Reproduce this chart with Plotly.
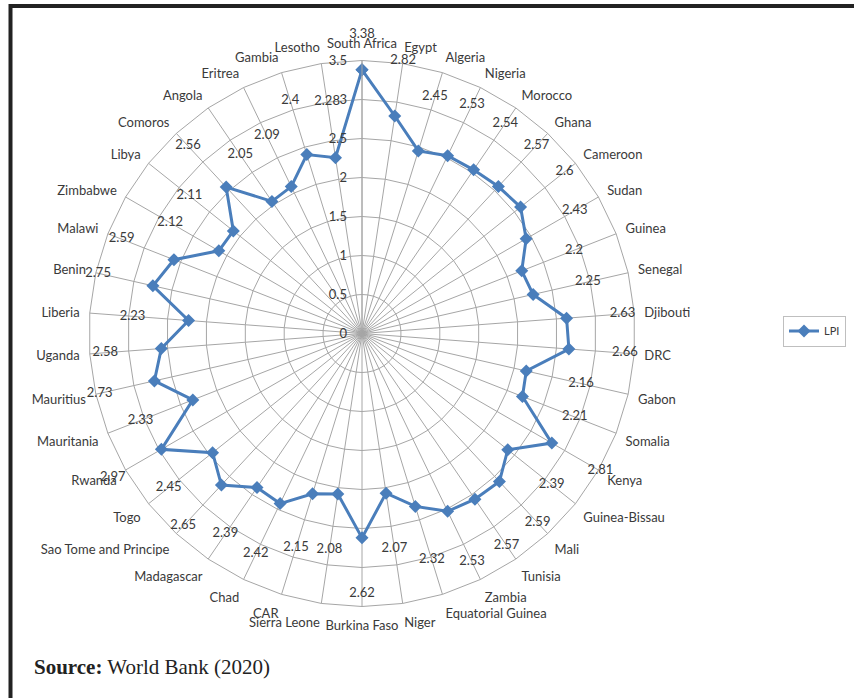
import plotly.graph_objects as go

# Logistics Performance Index (LPI) by African country, clockwise from the top
countries = [
    "South Africa", "Egypt", "Algeria", "Nigeria", "Morocco", "Ghana", "Cameroon",
    "Sudan", "Guinea", "Senegal", "Djibouti", "DRC", "Gabon", "Somalia", "Kenya",
    "Guinea-Bissau", "Mali", "Tunisia", "Zambia", "Equatorial Guinea", "Niger",
    "Burkina Faso", "Sierra Leone", "CAR", "Chad", "Madagascar",
    "Sao Tome and Principe", "Togo", "Rwanda", "Mauritania", "Mauritius", "Uganda",
    "Liberia", "Benin", "Malawi", "Zimbabwe", "Libya", "Comoros", "Angola",
    "Eritrea", "Gambia", "Lesotho",
]
lpi = [
    3.38, 2.82, 2.45, 2.53, 2.54, 2.57, 2.6,
    2.43, 2.2, 2.25, 2.63, 2.66, 2.16, 2.21, 2.81,
    2.39, 2.59, 2.57, 2.53, 2.32, 2.07,
    2.62, 2.08, 2.15, 2.42, 2.39,
    2.65, 2.45, 2.97, 2.33, 2.73, 2.58,
    2.23, 2.75, 2.59, 2.12, 2.11, 2.56, 2.05,
    2.09, 2.4, 2.28,
]
radial_ticks = [0, 0.5, 1, 1.5, 2, 2.5, 3, 3.5]

W, H = 854, 698
cx, cy = 362, 333.5
r_max = 3.5            # outer ring of the chart
px_per_unit = 273 / r_max

# value labels sit a fixed distance outside each marker, kept inside the frame
label_offset = 0.72
label_cap = 3.83
label_r = [min(v + label_offset, label_cap) for v in lpi]
label_text = [f"{v:g}" for v in lpi]

# a transparent overlay subplot with a wider radial range carries the labels
overlay_max = 4.25

line_blue = "#4A7EBB"
grid_grey = "#a6a6a6"
text_grey = "#3a3a3a"
label_font = "Lato"
label_size = 13

# radial tick labels sit just left of the vertical axis
pad = "\u00a0" * 3
radial_text = [f"{t:g}{pad}" for t in radial_ticks]


def square_domain(r_units):
    rad = r_units * px_per_unit
    return dict(
        x=[(cx - rad) / W, (cx + rad) / W],
        y=[1 - (cy + rad) / H, 1 - (cy - rad) / H],
    )


fig = go.Figure()

fig.add_trace(go.Scatterpolar(
    r=lpi + [lpi[0]],
    theta=countries + [countries[0]],
    mode="lines+markers",
    name="LPI",
    line=dict(color=line_blue, width=3),
    marker=dict(symbol="diamond", size=10, color=line_blue),
    cliponaxis=False,
    subplot="polar",
))

fig.add_trace(go.Scatterpolar(
    r=label_r,
    theta=countries,
    mode="text",
    text=label_text,
    textfont=dict(family=label_font, size=label_size, color=text_grey),
    showlegend=False,
    cliponaxis=False,
    hoverinfo="skip",
    subplot="polar2",
))

hidden_radial = dict(range=[0, overlay_max], visible=False, showgrid=False,
                     showline=False, showticklabels=False, ticks="")
hidden_angular = dict(type="category", categoryorder="array", categoryarray=countries,
                      direction="clockwise", rotation=90, visible=False,
                      showgrid=False, showline=False, showticklabels=False, ticks="")

fig.update_layout(
    width=W,
    height=H,
    margin=dict(l=0, r=0, t=0, b=0),
    paper_bgcolor="white",
    plot_bgcolor="white",
    font=dict(family=label_font, size=label_size, color=text_grey),
    polar=dict(
        domain=square_domain(r_max),
        bgcolor="white",
        gridshape="linear",
        radialaxis=dict(
            range=[0, r_max],
            tickvals=radial_ticks,
            ticktext=radial_text,
            angle=90,
            tickangle=90,
            side="counterclockwise",
            ticks="",
            showline=True,
            linecolor=grid_grey,
            linewidth=1,
            gridcolor=grid_grey,
            gridwidth=1,
            tickfont=dict(family=label_font, size=label_size, color=text_grey),
        ),
        angularaxis=dict(
            type="category",
            categoryorder="array",
            categoryarray=countries,
            direction="clockwise",
            rotation=90,
            ticks="outside",
            ticklen=7,
            tickcolor="rgba(0,0,0,0)",
            showline=True,
            linecolor=grid_grey,
            linewidth=1,
            gridcolor=grid_grey,
            gridwidth=1,
            tickfont=dict(family=label_font, size=label_size, color=text_grey),
        ),
    ),
    polar2=dict(
        domain=square_domain(overlay_max),
        bgcolor="rgba(0,0,0,0)",
        radialaxis=hidden_radial,
        angularaxis=hidden_angular,
    ),
    showlegend=True,
    legend=dict(
        x=783 / W,
        y=1 - 331 / H,
        xanchor="left",
        yanchor="middle",
        bgcolor="white",
        bordercolor="#bfbfbf",
        borderwidth=1,
        font=dict(family=label_font, size=11, color=text_grey),
    ),
    shapes=[
        dict(
            type="rect", xref="paper", yref="paper",
            x0=10.5 / W, x1=1.05, y0=-0.05, y1=1 - 6 / H,
            line=dict(color="#222222", width=4),
            fillcolor="rgba(0,0,0,0)",
        )
    ],
    annotations=[
        dict(
            x=32 / W, y=1 - 667 / H, xref="paper", yref="paper",
            xanchor="left", yanchor="middle", showarrow=False,
            text="<b>Source:</b> World Bank (2020)",
            font=dict(family="Liberation Serif", size=21, color="#222222"),
        )
    ],
)

fig.write_html("out.html")
